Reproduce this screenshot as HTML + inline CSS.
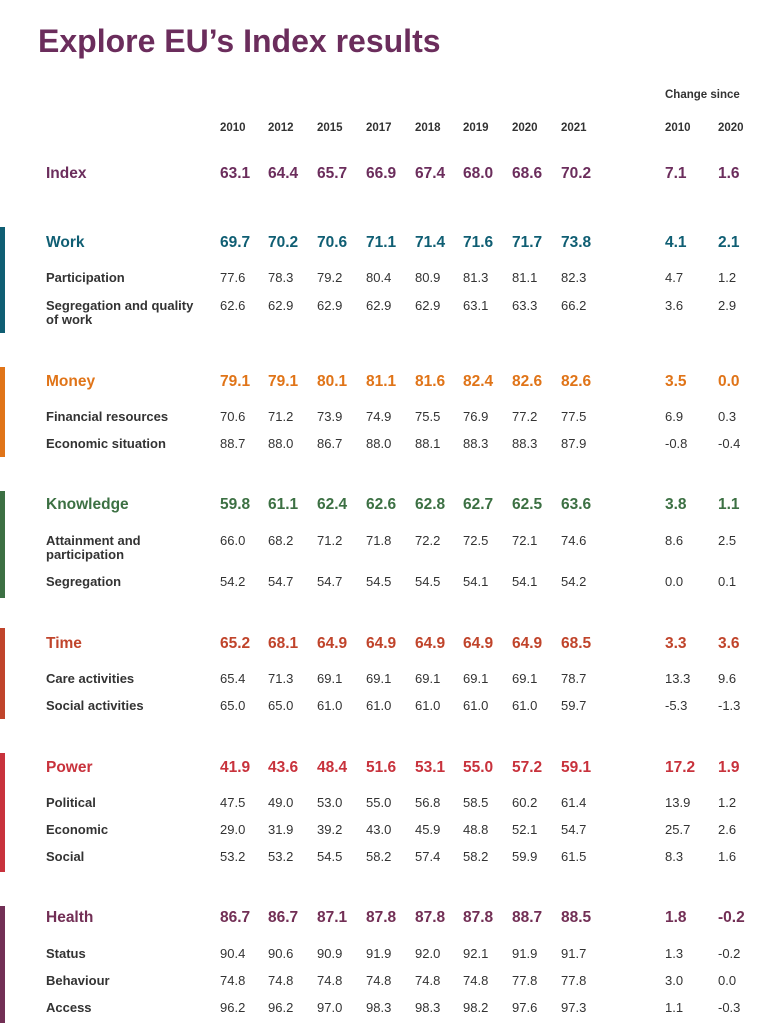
<!DOCTYPE html>
<html><head><meta charset="utf-8">
<style>
html,body{margin:0;padding:0;background:#fff;}
body{width:763px;height:1023px;position:relative;overflow:hidden;font-family:"Liberation Sans",sans-serif;color:#333;}
.t{position:absolute;white-space:nowrap;line-height:1;}
.title{left:38px;top:25px;font-size:32px;font-weight:bold;color:#6b2d5c;}
.hd{font-size:11.5px;font-weight:bold;color:#333;}
.main{font-size:15.5px;font-weight:bold;}
.sub{font-size:13px;}
.lab{font-weight:bold;}
.bar{position:absolute;left:0;width:5px;}
</style></head>
<body>
<div class="t title">Explore EU’s Index results</div>
<div id="root"></div>
<script>
const years=["2010","2012","2015","2017","2018","2019","2020","2021"];
const changeYears=["2010","2020"];
const labels=["Index","Work","Participation","Segregation and quality|of work","Money","Financial resources","Economic situation","Knowledge","Attainment and|participation","Segregation","Time","Care activities","Social activities","Power","Political","Economic","Social","Health","Status","Behaviour","Access"];
const values=[
["63.1","64.4","65.7","66.9","67.4","68.0","68.6","70.2","7.1","1.6"],
["69.7","70.2","70.6","71.1","71.4","71.6","71.7","73.8","4.1","2.1"],
["77.6","78.3","79.2","80.4","80.9","81.3","81.1","82.3","4.7","1.2"],
["62.6","62.9","62.9","62.9","62.9","63.1","63.3","66.2","3.6","2.9"],
["79.1","79.1","80.1","81.1","81.6","82.4","82.6","82.6","3.5","0.0"],
["70.6","71.2","73.9","74.9","75.5","76.9","77.2","77.5","6.9","0.3"],
["88.7","88.0","86.7","88.0","88.1","88.3","88.3","87.9","-0.8","-0.4"],
["59.8","61.1","62.4","62.6","62.8","62.7","62.5","63.6","3.8","1.1"],
["66.0","68.2","71.2","71.8","72.2","72.5","72.1","74.6","8.6","2.5"],
["54.2","54.7","54.7","54.5","54.5","54.1","54.1","54.2","0.0","0.1"],
["65.2","68.1","64.9","64.9","64.9","64.9","64.9","68.5","3.3","3.6"],
["65.4","71.3","69.1","69.1","69.1","69.1","69.1","78.7","13.3","9.6"],
["65.0","65.0","61.0","61.0","61.0","61.0","61.0","59.7","-5.3","-1.3"],
["41.9","43.6","48.4","51.6","53.1","55.0","57.2","59.1","17.2","1.9"],
["47.5","49.0","53.0","55.0","56.8","58.5","60.2","61.4","13.9","1.2"],
["29.0","31.9","39.2","43.0","45.9","48.8","52.1","54.7","25.7","2.6"],
["53.2","53.2","54.5","58.2","57.4","58.2","59.9","61.5","8.3","1.6"],
["86.7","86.7","87.1","87.8","87.8","87.8","88.7","88.5","1.8","-0.2"],
["90.4","90.6","90.9","91.9","92.0","92.1","91.9","91.7","1.3","-0.2"],
["74.8","74.8","74.8","74.8","74.8","74.8","77.8","77.8","3.0","0.0"],
["96.2","96.2","97.0","98.3","98.3","98.2","97.6","97.3","1.1","-0.3"]];
const isMain=[1,1,0,0,1,0,0,1,0,0,1,0,0,1,0,0,0,1,0,0,0];
const rowColor=["#6b2d5c","#0f5e73","","","#e07418","","","#3c7043","","","#c0442b","","","#c8323c","","","","#722f55","","",""];
const rowY=[174,243,277,305,382,416,443,505,540,581,644,678,705,768,802,829,856,918,953,980,1007];
const colX=[220,268,317,366,415,463,512,561,665,718];
const bars=[[227,333,"#0f5e73"],[367,457,"#e07418"],[491,598,"#3c7043"],[628,719,"#c0442b"],[753,872,"#c8323c"],[906,1023,"#722f55"]];
const root=document.getElementById('root');
function mk(cls,txt,x,yc,h){const d=document.createElement('div');d.className='t '+cls;d.textContent=txt;d.style.left=x+'px';d.style.top=(yc-h/2)+'px';root.appendChild(d);return d;}
bars.forEach((b,i)=>{const d=document.createElement('div');d.className='bar';d.style.top=b[0]+'px';d.style.height=(b[1]-b[0])+'px';d.style.background=b[2];


root.appendChild(d);});
const ch=mk('hd','Change since',665,96,12);


years.concat(changeYears).forEach((y,i)=>{const d=mk('hd',y,colX[i],129,12);

});
labels.forEach((l,r)=>{
 const m=isMain[r];const cls=m?'main':'sub';const h=m?16:13;
 const parts=l.split('|');
 parts.forEach((p,k)=>{const d=mk(cls+' lab',p,46,rowY[r]+k*14,h);if(m)d.style.color=rowColor[r];
 
 });
 values[r].forEach((v,c)=>{const d=mk(cls,v,colX[c],rowY[r],h);if(m)d.style.color=rowColor[r];
 
 });
});
</script>
</body></html>
